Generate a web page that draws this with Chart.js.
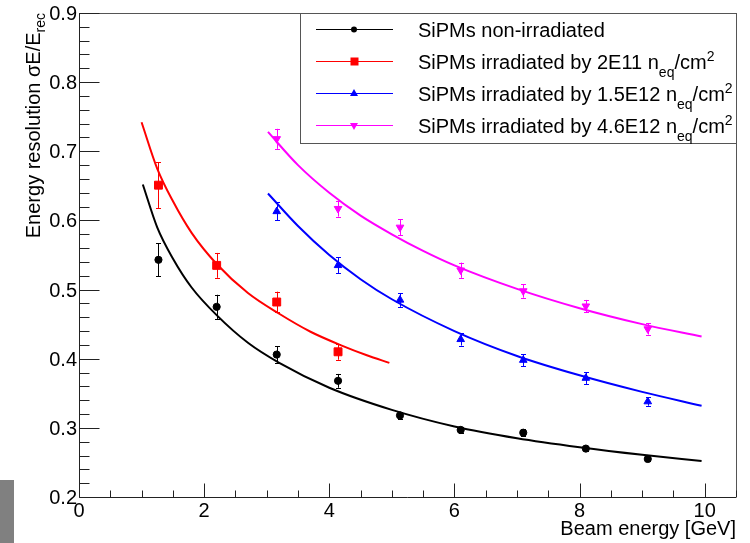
<!DOCTYPE html>
<html><head><meta charset="utf-8">
<script src="https://cdn.jsdelivr.net/npm/chart.js@4/dist/chart.umd.min.js"></script>
<style>html,body{margin:0;padding:0;background:#fff;overflow:hidden}#wrap{width:750px;height:543px;position:relative}</style>
</head><body><div id="wrap"><canvas id="c" width="750" height="543"></canvas></div>
<script>
// ---------- data ----------
const energyAll = [1.27, 2.2, 3.16, 4.14, 5.13, 6.1, 7.1, 8.1, 9.09];
const resNonIrr = [0.543, 0.475, 0.406, 0.368, 0.318, 0.297, 0.293, 0.270, 0.255];
const errNonIrr = [0.024, 0.0175, 0.012, 0.010, 0.005, 0.004, 0.005, 0.003, 0.003];

const energy2E11 = [1.27, 2.2, 3.16, 4.14];
const res2E11 = [0.651, 0.535, 0.482, 0.410];
const err2E11 = [0.033, 0.018, 0.015, 0.0115];

const energyHigh = [3.16, 4.14, 5.13, 6.1, 7.1, 8.1, 9.09];
const res15E12 = [0.613, 0.535, 0.485, 0.428, 0.398, 0.372, 0.338];
const err15E12 = [0.013, 0.0115, 0.010, 0.009, 0.0085, 0.0085, 0.006];
const res46E12 = [0.718, 0.617, 0.590, 0.528, 0.498, 0.476, 0.443];
const err46E12 = [0.0145, 0.0115, 0.0115, 0.011, 0.0097, 0.009, 0.008];

// fit curves
const fitENonIrr = [1.02, 1.25, 1.5, 1.8, 2.2, 2.7, 3.2, 4.0, 5.0, 6.0, 7.0, 8.0, 9.0, 9.95];
const fitNonIrr  = [0.652, 0.590, 0.545, 0.503, 0.463, 0.423, 0.394, 0.358, 0.326, 0.302, 0.285, 0.272, 0.261, 0.252];
const fitE2E11 = [1.0, 1.25, 1.5, 1.8, 2.2, 2.7, 3.2, 3.7, 4.2, 4.6, 4.96];
const fit2E11  = [0.742, 0.675, 0.628, 0.582, 0.537, 0.495, 0.465, 0.439, 0.419, 0.405, 0.394];
const fitE15E12 = [3.02, 3.5, 4.0, 4.5, 5.0, 6.0, 7.0, 8.0, 9.0, 9.95];
const fit15E12  = [0.639, 0.592, 0.550, 0.515, 0.486, 0.440, 0.404, 0.376, 0.352, 0.332];
const fitE46E12 = [3.02, 3.5, 4.0, 4.5, 5.0, 5.5, 6.0, 7.0, 8.0, 9.0, 9.95];
const fit46E12  = [0.728, 0.680, 0.640, 0.607, 0.580, 0.556, 0.535, 0.501, 0.473, 0.450, 0.432];

const xTicks = [0, 2, 4, 6, 8, 10];
const yTicks = [0.2, 0.3, 0.4, 0.5, 0.6, 0.7, 0.8, 0.9];
const yTickLabels = ['0.2', '0.3', '0.4', '0.5', '0.6', '0.7', '0.8', '0.9'];

const seriesNames = ['SiPMs non-irradiated', 'SiPMs irradiated by 2E11 n', 'SiPMs irradiated by 1.5E12 n', 'SiPMs irradiated by 4.6E12 n'];
const colors = ['#000000', '#ff0000', '#0000ff', '#ff00ff'];

// ---------- build ----------
const FONT = "'Liberation Sans', Arial, Helvetica, sans-serif";
const pts = (xs, ys) => xs.map((x, i) => ({x, y: ys[i]}));

function curve(xs, ys, color) {
  return {data: pts(xs, ys), showLine: true, borderColor: color, borderWidth: 2,
    pointRadius: 0, cubicInterpolationMode: 'monotone', fill: false};
}
function marks(xs, ys, errs, color, style, radius, rot) {
  return {data: pts(xs, ys), errs, showLine: false, pointStyle: style, pointRadius: radius,
    rotation: rot || 0, backgroundColor: color, borderColor: color, borderWidth: 1, isMarks: true};
}

const datasets = [
  curve(fitENonIrr, fitNonIrr, colors[0]),
  curve(fitE2E11, fit2E11, colors[1]),
  curve(fitE15E12, fit15E12, colors[2]),
  curve(fitE46E12, fit46E12, colors[3]),
  marks(energyAll, resNonIrr, errNonIrr, colors[0], 'circle', 3.6),
  marks(energy2E11, res2E11, err2E11, colors[1], 'rect', 5.6),
  marks(energyHigh, res15E12, err15E12, colors[2], 'triangle', 4.4),
  marks(energyHigh, res46E12, err46E12, colors[3], 'triangle', 4.4, 180),
];

function drawRich(ctx, segs, x, y, align) {
  let total = 0;
  const ws = segs.map(s => { ctx.font = s.size + 'px ' + FONT; const w = ctx.measureText(s.t).width; total += w; return w; });
  let cx = align === 'right' ? x - total : (align === 'center' ? x - total / 2 : x);
  ctx.textAlign = 'left';
  ctx.textBaseline = 'alphabetic';
  segs.forEach((s, i) => { ctx.font = s.size + 'px ' + FONT; ctx.fillText(s.t, cx, y + (s.dy || 0)); cx += ws[i]; });
}

const rootPlugin = {
  id: 'rootPlugin',
  beforeDatasetsDraw(chart) {
    const ctx = chart.ctx, xs = chart.scales.x, ys = chart.scales.y;
    ctx.save();
    chart.data.datasets.forEach(ds => {
      if (!ds.isMarks) return;
      ctx.strokeStyle = ds.borderColor;
      ctx.lineWidth = 1;
      ds.data.forEach((p, i) => {
        const px = Math.round(xs.getPixelForValue(p.x)) + 0.5;
        const y1 = ys.getPixelForValue(p.y - ds.errs[i]);
        const y2 = ys.getPixelForValue(p.y + ds.errs[i]);
        ctx.beginPath();
        ctx.moveTo(px, y1); ctx.lineTo(px, y2);
        ctx.moveTo(px - 2.5, Math.round(y1) + 0.5); ctx.lineTo(px + 2.5, Math.round(y1) + 0.5);
        ctx.moveTo(px - 2.5, Math.round(y2) + 0.5); ctx.lineTo(px + 2.5, Math.round(y2) + 0.5);
        ctx.stroke();
      });
    });
    ctx.restore();
  },
  afterDatasetsDraw(chart) {
    const ctx = chart.ctx, a = chart.chartArea, xs = chart.scales.x, ys = chart.scales.y;
    ctx.save();
    // frame
    ctx.strokeStyle = '#555';
    ctx.lineWidth = 1;
    ctx.beginPath();
    ctx.moveTo(a.left, Math.round(a.top) + 0.5); ctx.lineTo(a.right, Math.round(a.top) + 0.5);
    ctx.moveTo(Math.round(a.right) + 0.5, a.top); ctx.lineTo(Math.round(a.right) + 0.5, a.bottom);
    ctx.stroke();
    // axes
    ctx.strokeStyle = '#222';
    ctx.beginPath();
    const bx = Math.round(a.left) + 0.5, by = Math.round(a.bottom) + 0.5;
    ctx.moveTo(bx, a.top); ctx.lineTo(bx, by);
    ctx.moveTo(bx, by); ctx.lineTo(a.right, by);
    // x ticks: major every 2, minor every 0.5
    for (let k = 0; k <= 21; k++) {
      const v = k * 0.5;
      const px = Math.round(xs.getPixelForValue(v)) + 0.5;
      const len = (k % 4 === 0) ? 14 : 7;
      ctx.moveTo(px, by); ctx.lineTo(px, by - len);
    }
    // y ticks: major every 0.1, minor every 0.02
    for (let k = 0; k <= 35; k++) {
      const v = 0.2 + k * 0.02;
      const py = Math.round(ys.getPixelForValue(v)) + 0.5;
      const len = (k % 5 === 0) ? 20 : 10;
      ctx.moveTo(bx, py); ctx.lineTo(bx + len, py);
    }
    ctx.stroke();
    // tick labels
    ctx.fillStyle = '#000';
    ctx.font = '20px ' + FONT;
    ctx.textAlign = 'center'; ctx.textBaseline = 'alphabetic';
    xTicks.forEach(v => ctx.fillText(String(v), xs.getPixelForValue(v), 517));
    ctx.textAlign = 'right';
    yTicks.forEach((v, i) => ctx.fillText(yTickLabels[i], a.left - 2, ys.getPixelForValue(v) + 7));
    // axis titles
    drawRich(ctx, [{t: 'Beam energy [GeV]', size: 20}], a.right, 535, 'right');
    ctx.save();
    ctx.translate(40, a.top);
    ctx.rotate(-Math.PI / 2);
    drawRich(ctx, [{t: 'Energy resolution \u03c3E/E', size: 20}, {t: 'rec', size: 14, dy: 5}], 0, 0, 'right');
    ctx.restore();
    // legend box
    const L = {x1: 300, y1: Math.round(a.top) + 0.5, x2: Math.round(a.right) + 0.5, y2: 143.5};
    ctx.fillStyle = '#fff';
    ctx.fillRect(L.x1, L.y1, L.x2 - L.x1, L.y2 - L.y1);
    ctx.strokeStyle = '#555';
    ctx.strokeRect(L.x1 + 0.5, L.y1, L.x2 - L.x1 - 0.5, L.y2 - L.y1);
    const rows = [29.5, 61.5, 93.5, 125.5];
    rows.forEach((ry, i) => {
      const c = colors[i];
      ctx.strokeStyle = c; ctx.fillStyle = c; ctx.lineWidth = 1;
      ctx.beginPath(); ctx.moveTo(316, ry); ctx.lineTo(393, ry); ctx.stroke();
      ctx.beginPath();
      if (i === 0) { ctx.arc(354, ry, 3, 0, Math.PI * 2); }
      else if (i === 1) { ctx.rect(350.5, ry - 4, 8, 8); }
      else if (i === 2) { ctx.moveTo(354, ry - 4.5); ctx.lineTo(358, ry + 2.5); ctx.lineTo(350, ry + 2.5); ctx.closePath(); }
      else { ctx.moveTo(354, ry + 4.5); ctx.lineTo(358, ry - 2.5); ctx.lineTo(350, ry - 2.5); ctx.closePath(); }
      ctx.fill();
      ctx.fillStyle = '#000';
      const segs = [{t: seriesNames[i], size: 20}];
      if (i > 0) segs.push({t: 'eq', size: 14, dy: 8}, {t: '/cm', size: 20}, {t: '2', size: 14, dy: -8});
      drawRich(ctx, segs, 418, ry + 7, 'left');
    });
    // grey block bottom-left
    ctx.fillStyle = '#808080';
    ctx.fillRect(0, 480, 14, 63);
    ctx.restore();
  }
};

new Chart(document.getElementById('c'), {
  type: 'scatter',
  data: {datasets},
  options: {
    responsive: false, animation: false, devicePixelRatio: 1,
    layout: {padding: {left: 79, right: 14, top: 13, bottom: 46}},
    scales: {
      x: {type: 'linear', min: 0, max: 10.5, display: false},
      y: {type: 'linear', min: 0.2, max: 0.9, display: false}
    },
    plugins: {legend: {display: false}, tooltip: {enabled: false}}
  },
  plugins: [rootPlugin]
});
</script>
</body></html>
